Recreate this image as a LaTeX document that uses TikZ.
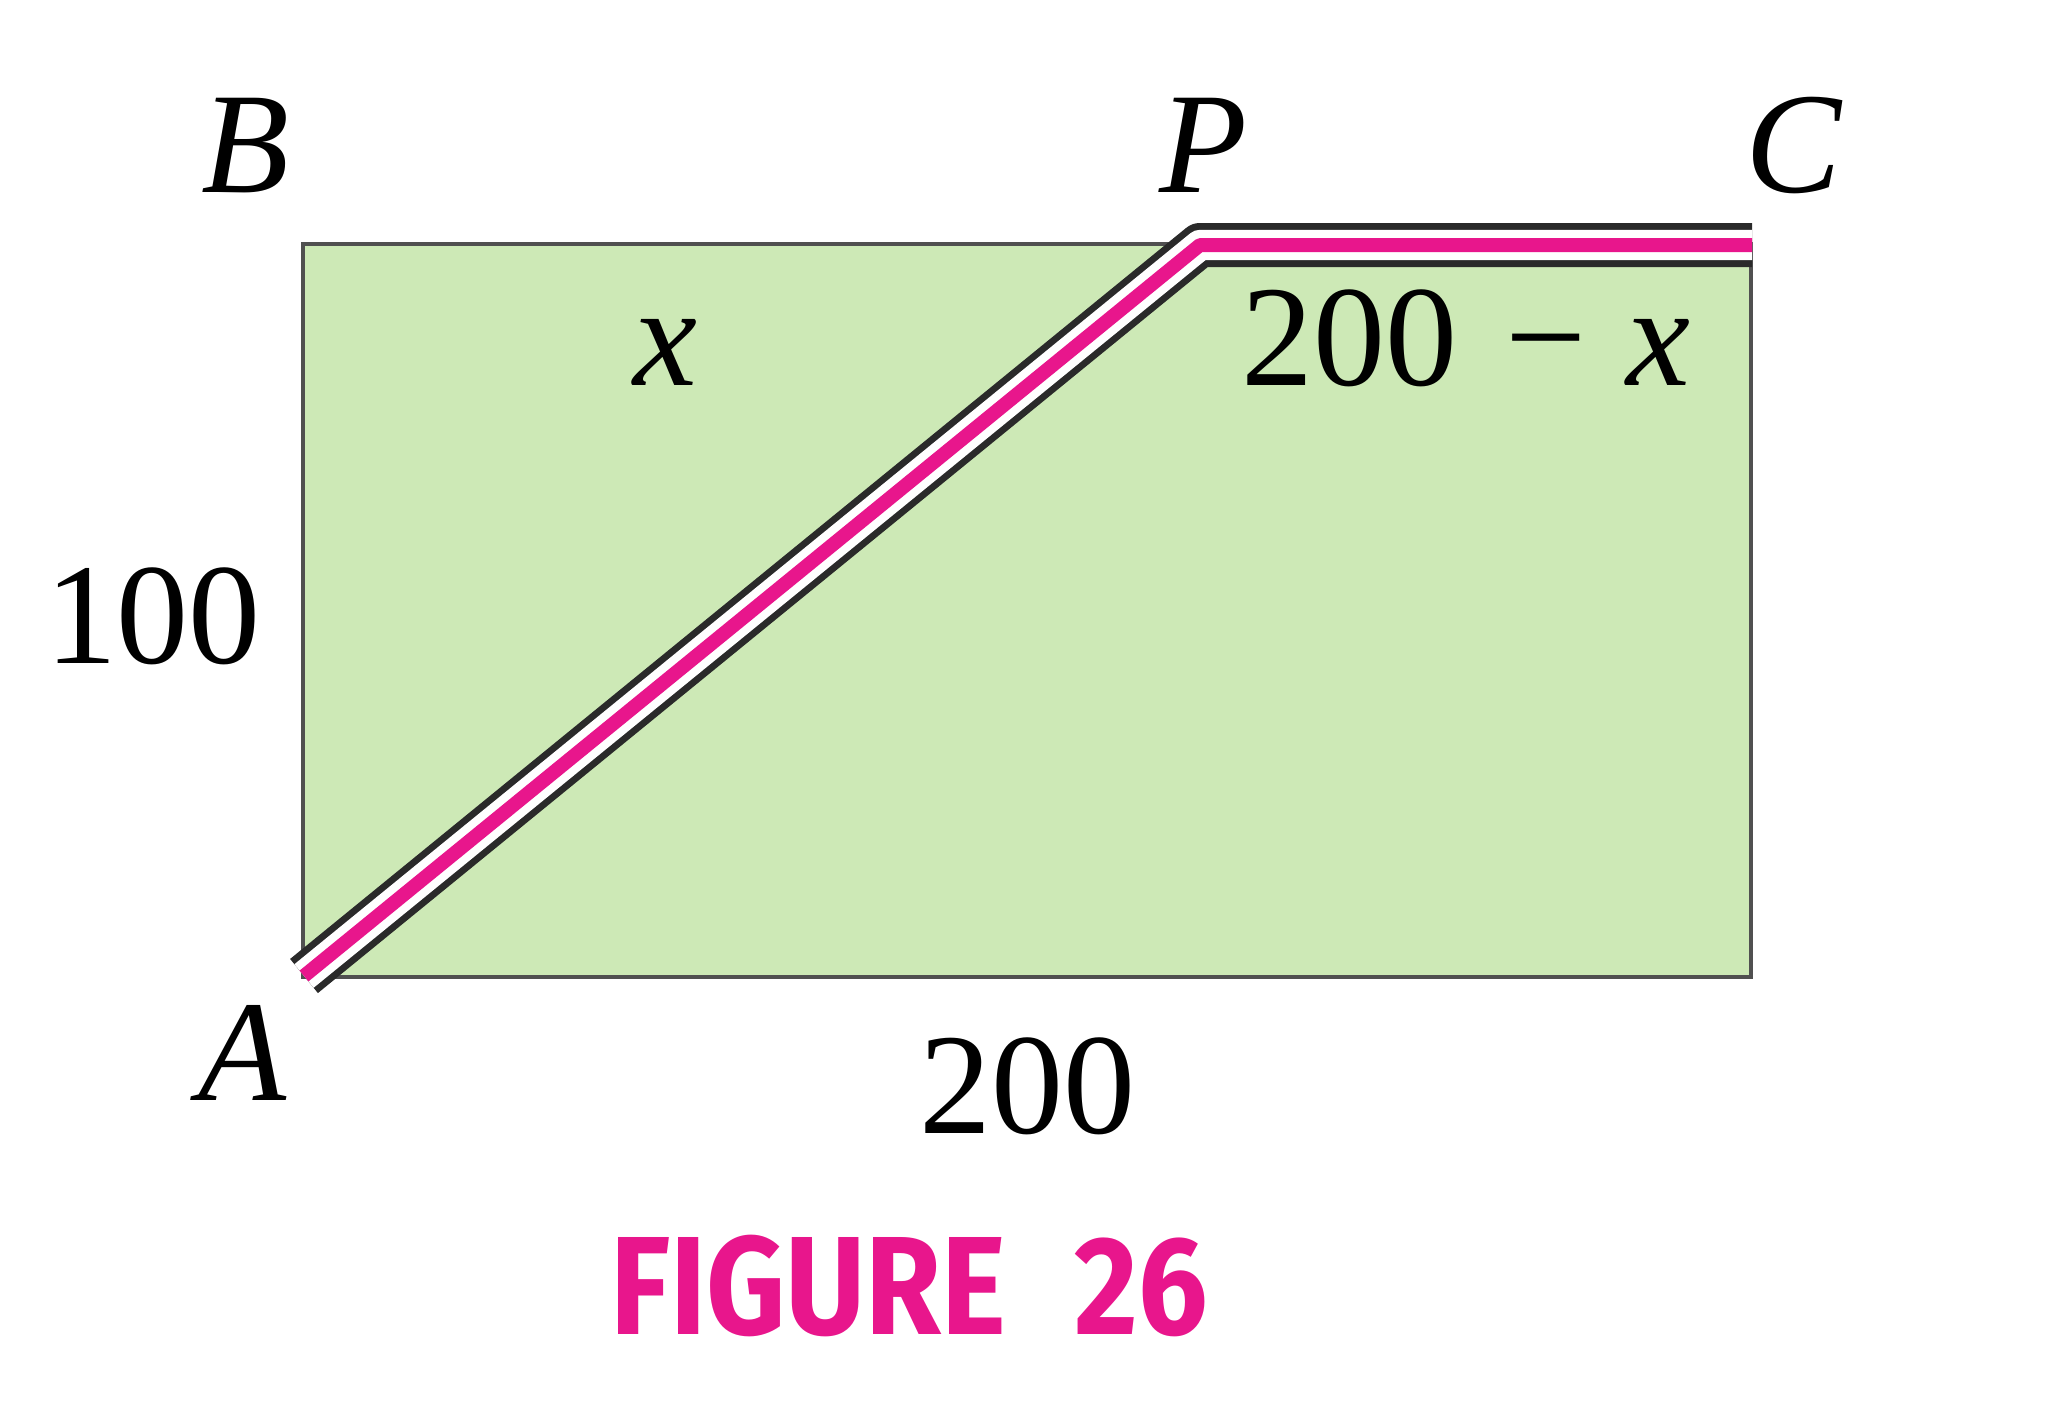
\documentclass[tikz,border=0pt]{standalone}
\usepackage{fontspec}
\setmainfont{Liberation Serif}
\newfontfamily\figfont{Fira Sans}[FakeStretch=0.88]
\definecolor{fieldgreen}{HTML}{CDE9B6}
\definecolor{edgegray}{HTML}{505050}
\definecolor{roadpink}{HTML}{E8168C}
\definecolor{roadblack}{HTML}{2A2A2A}
\tikzset{
  field/.style={fill=fieldgreen, draw=edgegray, line width=1.1pt},
  lbl/.style={anchor=base, inner sep=0pt, font=\fontsize{36}{40}\selectfont},
  roadedge/.style={line width=11pt, draw=roadblack, line join=round},
  roadgap/.style={line width=7.6pt, draw=white, line join=round},
  roadcore/.style={line width=3.5pt, draw=roadpink, line join=round},
}
\begin{document}
\begin{tikzpicture}[x=0.25pt, y=-0.25pt]
\useasboundingbox (0,0) rectangle (2046,1413);
% corners
\coordinate (A) at (303,977);
\coordinate (B) at (303,244);
\coordinate (C) at (1751,244);
\coordinate (D) at (1751,977);
% road points
\coordinate (RA) at (304,976);
\coordinate (P) at (1200,245);
\coordinate (RC) at (1752,245);
% field
\draw[field] (A) rectangle (C);
% road
\draw[roadedge] (RA) -- (P) -- (RC);
\draw[roadgap] (RA) -- (P) -- (RC);
\draw[roadcore] (RA) -- (P) -- (RC);
% labels
\node[lbl] (lB) at (245,192) {\textit{B}};
\node[lbl] (lP) at (1203,192) {\textit{P}};
\node[lbl] (lC) at (1794,192) {\textit{C}};
\node[lbl] (lA) at (243,1100) {\textit{A}};
\node[lbl] (lx) at (665,385) {\textit{x}};
\node[lbl] (l200x) at (1466,385) {200\hspace{0.33em}−\hspace{0.28em}\textit{x}};
\node[lbl] (l100) at (153,663) {100};
\node[lbl] (l200) at (1027,1133) {200};
\node[anchor=base, inner sep=0pt, text=roadpink, font=\figfont\bfseries\fontsize{35}{40}\selectfont] (fig) at (909,1334) {FIGURE\hspace{17pt}26};
\end{tikzpicture}
\end{document}
